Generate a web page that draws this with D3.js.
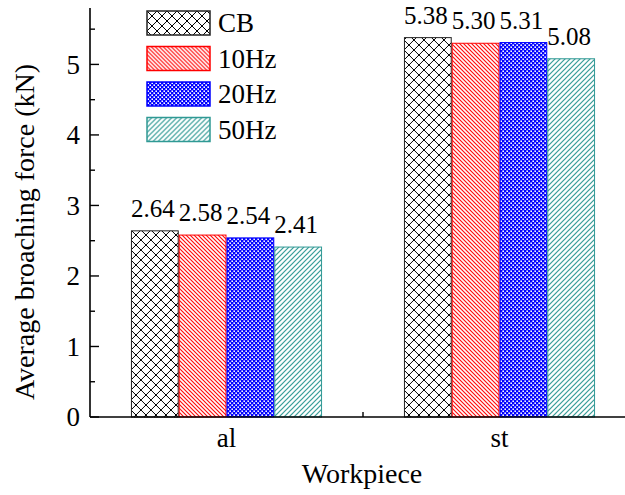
<!DOCTYPE html>
<html>
<head>
<meta charset="utf-8">
<script src="https://cdn.jsdelivr.net/npm/d3@7/dist/d3.min.js"></script>
<style>
  html, body { margin: 0; padding: 0; background: #fff; }
  svg { display: block; font-family: "Liberation Serif", "Times New Roman", serif; }
</style>
</head>
<body>
<svg id="chart" width="625" height="495"></svg>
<script>
// Workpiece groups and the four broaching conditions
const categories = ["al", "st"];
const seriesNames = ["CB", "10Hz", "20Hz", "50Hz"];
const cbValues = [2.64, 5.38];
const hz10Values = [2.58, 5.30];
const hz20Values = [2.54, 5.31];
const hz50Values = [2.41, 5.08];
const yTicks = [0, 1, 2, 3, 4, 5];
const yMinorTicks = [0.5, 1.5, 2.5, 3.5, 4.5, 5.5];

const seriesValues = [cbValues, hz10Values, hz20Values, hz50Values];
const seriesStroke = ["#222222", "#ff0000", "#0000ff", "#2f9994"];

const svg = d3.select("#chart");
const plotLeft = 90, plotRight = 636, plotTop = 8, plotBottom = 417;

const x = d3.scaleBand().domain(categories).range([plotLeft, plotRight])
  .paddingInner(0.3).paddingOuter(0.15);
const xs = d3.scaleBand().domain(seriesNames).range([0, x.bandwidth()]).padding(0);
const y = d3.scaleLinear().domain([0, 5.8]).range([plotBottom, plotTop]);

// Fill patterns
const defs = svg.append("defs");
function pat(id, size) {
  return defs.append("pattern").attr("id", id).attr("patternUnits", "userSpaceOnUse")
    .attr("width", size).attr("height", size);
}
const pCB = pat("p-CB", 10);
pCB.append("rect").attr("width", 10).attr("height", 10).attr("fill", "#fff");
pCB.append("path").attr("d", "M0,0L10,10M0,10L10,0").attr("stroke", "#000").attr("stroke-width", 1).attr("fill", "none");

const p10 = pat("p-10Hz", 4);
p10.append("rect").attr("width", 4).attr("height", 4).attr("fill", "#fff");
p10.append("path").attr("d", "M-1,-1L5,5M-1,3L1,5M3,-1L5,1").attr("stroke", "#ff0000").attr("stroke-width", 1.1).attr("fill", "none");

const p20 = pat("p-20Hz", 4);
p20.append("rect").attr("width", 4).attr("height", 4).attr("fill", "#0000ff");
p20.append("rect").attr("x", 0.4).attr("y", 0.4).attr("width", 1.6).attr("height", 1.6).attr("fill", "#fff");
p20.append("rect").attr("x", 2.4).attr("y", 2.4).attr("width", 1.6).attr("height", 1.6).attr("fill", "#fff");

const p50 = pat("p-50Hz", 5);
p50.append("rect").attr("width", 5).attr("height", 5).attr("fill", "#fff");
p50.append("path").attr("d", "M0,5L5,0M-1,1L1,-1M4,6L6,4").attr("stroke", "#2f9994").attr("stroke-width", 1.2).attr("fill", "none");

const fills = seriesNames.map(s => `url(#p-${s})`);

// Bars and value labels
const groups = svg.append("g").selectAll("g").data(categories).join("g")
  .attr("transform", d => `translate(${x(d)},0)`);

seriesNames.forEach((s, si) => {
  groups.append("rect")
    .attr("x", xs(s) + 0.5)
    .attr("y", (d, i) => y(seriesValues[si][i]))
    .attr("width", xs.bandwidth() - 1)
    .attr("height", (d, i) => y(0) - y(seriesValues[si][i]))
    .attr("fill", fills[si])
    .attr("stroke", seriesStroke[si])
    .attr("stroke-width", 1);
  groups.append("text")
    .attr("x", xs(s) + xs.bandwidth() / 2 - 2)
    .attr("y", (d, i) => y(seriesValues[si][i]) - 14)
    .attr("text-anchor", "middle")
    .attr("font-size", 25)
    .attr("fill", "#000")
    .text((d, i) => seriesValues[si][i].toFixed(2));
});

// Y axis with inward ticks
const yAxis = svg.append("g");
yAxis.append("line").attr("x1", plotLeft).attr("x2", plotLeft).attr("y1", plotTop).attr("y2", plotBottom)
  .attr("stroke", "#000").attr("stroke-width", 1.6);
yAxis.selectAll(".major").data(yTicks).join("line").attr("class", "major")
  .attr("x1", plotLeft).attr("x2", plotLeft + 9).attr("y1", d => y(d)).attr("y2", d => y(d))
  .attr("stroke", "#000").attr("stroke-width", 1.4);
yAxis.selectAll(".minor").data(yMinorTicks).join("line").attr("class", "minor")
  .attr("x1", plotLeft).attr("x2", plotLeft + 5).attr("y1", d => y(d)).attr("y2", d => y(d))
  .attr("stroke", "#000").attr("stroke-width", 1.4);
yAxis.selectAll("text").data(yTicks).join("text")
  .attr("x", plotLeft - 10).attr("y", d => y(d)).attr("dy", "0.35em")
  .attr("text-anchor", "end").attr("font-size", 27).text(d => d);

// X axis: separator tick between groups, labels at group centres
const xAxis = svg.append("g");
xAxis.append("line").attr("x1", plotLeft).attr("x2", 625).attr("y1", plotBottom).attr("y2", plotBottom)
  .attr("stroke", "#000").attr("stroke-width", 1.6);
const step = x.step();
xAxis.selectAll(".sep").data(categories.slice(1)).join("line").attr("class", "sep")
  .attr("x1", d => x(d) - step * x.paddingInner() / 2)
  .attr("x2", d => x(d) - step * x.paddingInner() / 2)
  .attr("y1", plotBottom).attr("y2", plotBottom - 5)
  .attr("stroke", "#000").attr("stroke-width", 1.4);
xAxis.selectAll("text").data(categories).join("text")
  .attr("x", d => x(d) + x.bandwidth() / 2).attr("y", 447)
  .attr("text-anchor", "middle").attr("font-size", 27).text(d => d);

// Axis titles
svg.append("text").attr("x", 362).attr("y", 483)
  .attr("text-anchor", "middle").attr("font-size", 28)
  .text("Workpiece");
svg.append("text").attr("transform", "translate(34,232) rotate(-90)")
  .attr("text-anchor", "middle").attr("font-size", 28)
  .text("Average broaching force (kN)");

// Legend
const legend = svg.append("g").selectAll("g").data(seriesNames).join("g")
  .attr("transform", (d, i) => `translate(147,${11 + i * 35.5})`);
legend.append("rect").attr("width", 63).attr("height", 24)
  .attr("fill", (d, i) => fills[i])
  .attr("stroke", (d, i) => seriesStroke[i]).attr("stroke-width", 1.5);
legend.append("text").attr("x", 71).attr("y", 21).attr("font-size", 27).text(d => d);
</script>
</body>
</html>
